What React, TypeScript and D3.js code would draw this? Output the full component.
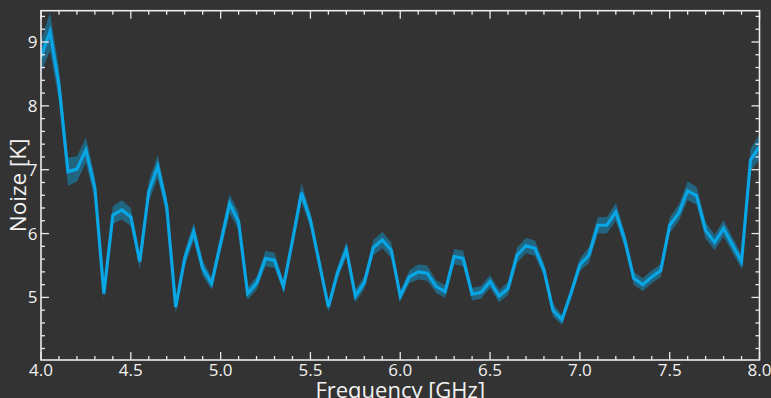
import React from "react";
import * as d3 from "d3";

const freq: number[] = [
  4.0, 4.05, 4.1, 4.15, 4.2, 4.25, 4.3, 4.35, 4.4, 4.45, 4.5, 4.55, 4.6, 4.65, 4.7, 4.75, 4.8, 4.85, 4.9, 4.95,
  5.0, 5.05, 5.1, 5.15, 5.2, 5.25, 5.3, 5.35, 5.4, 5.45, 5.5, 5.55, 5.6, 5.65, 5.7, 5.75, 5.8, 5.85, 5.9, 5.95,
  6.0, 6.05, 6.1, 6.15, 6.2, 6.25, 6.3, 6.35, 6.4, 6.45, 6.5, 6.55, 6.6, 6.65, 6.7, 6.75, 6.8, 6.85, 6.9, 6.95,
  7.0, 7.05, 7.1, 7.15, 7.2, 7.25, 7.3, 7.35, 7.4, 7.45, 7.5, 7.55, 7.6, 7.65, 7.7, 7.75, 7.8, 7.85, 7.9, 7.95, 8.0,
];

const noise: number[] = [
  8.77, 9.16, 8.33, 6.97, 7.01, 7.31, 6.71, 5.06, 6.29, 6.37, 6.26, 5.56, 6.66, 7.05, 6.42, 4.85, 5.61, 6.03, 5.46, 5.22,
  5.85, 6.47, 6.19, 5.06, 5.22, 5.61, 5.58, 5.17, 5.89, 6.64, 6.21, 5.53, 4.85, 5.38, 5.75, 5.02, 5.23, 5.78, 5.9, 5.74,
  5.02, 5.32, 5.4, 5.38, 5.17, 5.09, 5.64, 5.61, 5.05, 5.08, 5.25, 5.02, 5.14, 5.66, 5.81, 5.77, 5.43, 4.8, 4.65, 5.06,
  5.51, 5.66, 6.13, 6.13, 6.34, 5.9, 5.3, 5.2, 5.32, 5.42, 6.13, 6.32, 6.67, 6.59, 6.05, 5.86, 6.08, 5.82, 5.56, 7.15, 7.36,
];

const noiseErr: number[] = [
  0.25, 0.3, 0.25, 0.22, 0.2, 0.2, 0.18, 0.1, 0.14, 0.15, 0.14, 0.12, 0.16, 0.18, 0.15, 0.1, 0.12, 0.14, 0.12, 0.1,
  0.13, 0.15, 0.14, 0.1, 0.1, 0.12, 0.12, 0.08, 0.1, 0.15, 0.12, 0.1, 0.08, 0.1, 0.12, 0.1, 0.1, 0.12, 0.13, 0.12,
  0.08, 0.1, 0.12, 0.12, 0.1, 0.1, 0.12, 0.12, 0.1, 0.1, 0.1, 0.1, 0.1, 0.12, 0.12, 0.12, 0.1, 0.1, 0.08, 0.08,
  0.1, 0.12, 0.13, 0.13, 0.14, 0.12, 0.1, 0.1, 0.1, 0.1, 0.12, 0.13, 0.15, 0.14, 0.13, 0.12, 0.13, 0.12, 0.12, 0.18, 0.2,
];

const xMajorTicks: number[] = [4.0, 4.5, 5.0, 5.5, 6.0, 6.5, 7.0, 7.5, 8.0];
const xTickLabels: string[] = ["4.0", "4.5", "5.0", "5.5", "6.0", "6.5", "7.0", "7.5", "8.0"];
const yMajorTicks: number[] = [5, 6, 7, 8, 9];
const yTickLabels: string[] = ["5", "6", "7", "8", "9"];

const W = 771;
const H = 398;
const FONT = "'Open Sans', 'DejaVu Sans', sans-serif";

export default function App() {
  const left = 41;
  const right = 759.5;
  const top = 10.7;
  const bottom = 360;

  const x = d3.scaleLinear().domain([4, 8]).range([left, right]);
  const y = d3.scaleLinear().domain([4.02, 9.49]).range([bottom, top]);

  const data = freq.map((f, i) => ({ f, v: noise[i], e: noiseErr[i] }));

  const line = d3
    .line<{ f: number; v: number; e: number }>()
    .x((d) => x(d.f))
    .y((d) => y(d.v));
  const area = d3
    .area<{ f: number; v: number; e: number }>()
    .x((d) => x(d.f))
    .y0((d) => y(d.v - d.e))
    .y1((d) => y(d.v + d.e));

  const xMinor = d3.range(40, 81).map((k) => k / 10).filter((t) => !xMajorTicks.some((m) => Math.abs(m - t) < 1e-6));
  const yMinor = d3.range(21, 48).map((k) => k / 5).filter((t) => t >= 4.02 && t <= 9.49 && !yMajorTicks.some((m) => Math.abs(m - t) < 1e-6));

  const tickColor = "#e8e8e8";
  const majLen = 8;
  const minLen = 4;

  return (
    <svg width={W} height={H} style={{ position: "absolute", left: 0, top: 0, display: "block" }}>
      <rect x={0} y={0} width={W} height={H} fill="#333333" />
      <defs>
        <clipPath id="plotclip">
          <rect x={left} y={top} width={right - left} height={bottom - top} />
        </clipPath>
      </defs>
      <g clipPath="url(#plotclip)">
        <path d={area(data) || ""} fill="#0da2e0" fillOpacity={0.45} stroke="none" />
        <path d={line(data) || ""} fill="none" stroke="#09a6e6" strokeWidth={3.2} strokeLinejoin="miter" />
      </g>

      <g stroke={tickColor} strokeWidth={1.3}>
        {xMajorTicks.map((t) => (
          <g key={"xm" + t}>
            <line x1={x(t)} x2={x(t)} y1={bottom} y2={bottom - majLen} />
            <line x1={x(t)} x2={x(t)} y1={top} y2={top + majLen} />
          </g>
        ))}
        {xMinor.map((t) => (
          <g key={"xn" + t}>
            <line x1={x(t)} x2={x(t)} y1={bottom} y2={bottom - minLen} />
            <line x1={x(t)} x2={x(t)} y1={top} y2={top + minLen} />
          </g>
        ))}
        {yMajorTicks.map((t) => (
          <g key={"ym" + t}>
            <line x1={left} x2={left + majLen} y1={y(t)} y2={y(t)} />
            <line x1={right} x2={right - majLen} y1={y(t)} y2={y(t)} />
          </g>
        ))}
        {yMinor.map((t) => (
          <g key={"yn" + t}>
            <line x1={left} x2={left + minLen} y1={y(t)} y2={y(t)} />
            <line x1={right} x2={right - minLen} y1={y(t)} y2={y(t)} />
          </g>
        ))}
      </g>

      <rect x={left} y={top} width={right - left} height={bottom - top} fill="none" stroke="#ececec" strokeWidth={1.6} />

      <g fill="#f2f2f2" fontFamily={FONT} fontSize={17}>
        {xMajorTicks.map((t, i) => (
          <text key={"xl" + t} x={x(t)} y={375.5} textAnchor="middle">
            {xTickLabels[i]}
          </text>
        ))}
        {yMajorTicks.map((t, i) => (
          <text key={"yl" + t} x={37.5} y={y(t) + 6} textAnchor="end">
            {yTickLabels[i]}
          </text>
        ))}
      </g>

      <text x={(left + right) / 2} y={397.5} textAnchor="middle" fill="#f2f2f2" fontFamily={FONT} fontSize={22}>
        Frequency [GHz]
      </text>
      <text
        transform={`translate(${25.5}, ${(top + bottom) / 2}) rotate(-90)`}
        textAnchor="middle"
        fill="#f2f2f2"
        fontFamily={FONT}
        fontSize={22.5}
      >
        Noize [K]
      </text>
    </svg>
  );
}
